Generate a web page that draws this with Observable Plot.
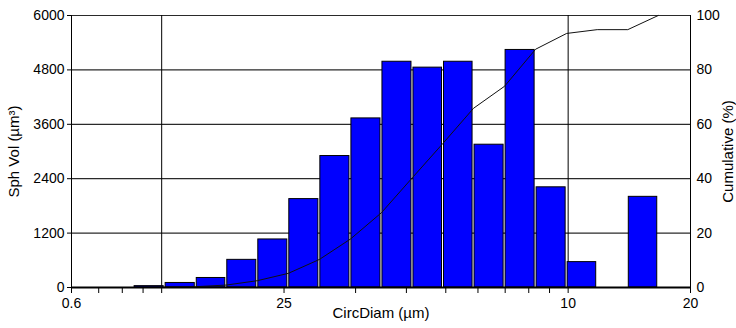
<!DOCTYPE html>
<html><head><meta charset="utf-8">
<script src="https://cdn.jsdelivr.net/npm/d3@7"></script>
<script src="https://cdn.jsdelivr.net/npm/@observablehq/plot@0.6"></script>
<style>body{margin:0;background:#fff} svg{display:block}</style>
</head><body><div id="chart"></div>
<script>
const binEdges = [0.853,1.017,1.213,1.442,1.719,2.049,2.443,2.913,3.473,4.140,4.922,5.852,6.977,8.317,9.915,11.79,14.02,16.66];
// spherical volume per bin (µm³)
const sphVol = [30,100,210,610,1060,1950,2900,3730,4980,4850,4980,3150,5240,2210,560,0,2000];
// cumulative % at each bin's upper edge
const cumulativePct = [0.1,0.3,0.9,2.5,5.2,10.3,17.8,27.5,40.4,53.0,65.9,74.0,87.6,93.4,94.8,94.8,100];
const volTicks = [0,1200,2400,3600,4800,6000];
const cumTicks = [0,20,40,60,80,100];
const xTicks = [0.6,0.7,0.8,0.9,1,2,3,4,5,6,7,8,9,10,20];
const xTickLabels = {0.6:"0.6", 2:"25", 10:"10", 20:"20"};
const xMajorGrid = [1,10];
const xDomain = [0.6,20];
const volMax = 6000;

const bars = sphVol.map((v,i)=>({x1:binEdges[i], x2:binEdges[i+1], v})).filter(d=>d.v>0);
const cumPts = [{x:binEdges[0], c:0}, ...cumulativePct.map((c,i)=>({x:binEdges[i+1], c}))];
const k = volMax/100;

const chart = Plot.plot({
  width:736, height:328,
  marginLeft:71, marginRight:46, marginTop:15, marginBottom:41,
  x:{type:"log", domain:xDomain},
  y:{domain:[0,volMax]},
  style:{fontFamily:"'Liberation Sans', Arial, sans-serif", fontSize:"14px", color:"#000", background:"#fff"},
  marks:[
    Plot.ruleY(volTicks.slice(1), {stroke:"#2a2a2a", strokeWidth:1.2}),
    Plot.ruleX(xMajorGrid, {stroke:"#000", strokeWidth:1}),
    Plot.rectY(bars, {x1:"x1", x2:"x2", y:"v", fill:"#0000ff", stroke:"#000", strokeWidth:1, insetLeft:1, insetRight:1}),
    Plot.line(cumPts, {x:"x", y:d=>d.c*k, stroke:"#111", strokeWidth:1}),
    Plot.ruleX(xDomain, {stroke:"#000", strokeWidth:1}),
    Plot.ruleY([0], {stroke:"#000", strokeWidth:2}),
    Plot.axisY({ticks:volTicks, tickSize:4, tickPadding:3, tickFormat:d=>String(d), label:null, fontSize:14}),
    Plot.axisY({anchor:"right", ticks:cumTicks.map(c=>c*k), tickSize:0, tickPadding:6, tickFormat:d=>String(Math.round(d/k)), label:null, fontSize:14}),
    Plot.axisX({ticks:xTicks, tickSize:6, tickPadding:5, tickFormat:d=>xTickLabels[d] ?? "", label:null, fontSize:14}),
    Plot.text(["Sph Vol (µm³)"], {frameAnchor:"left", dx:-57, rotate:-90, textAnchor:"middle", fontSize:15}),
    Plot.text(["Cumulative (%)"], {frameAnchor:"right", dx:38, rotate:-90, textAnchor:"middle", fontSize:15}),
    Plot.text(["CircDiam (µm)"], {frameAnchor:"bottom", dy:30, textAnchor:"middle", fontSize:15})
  ]
});
document.getElementById("chart").appendChild(chart);
</script>
</body></html>
